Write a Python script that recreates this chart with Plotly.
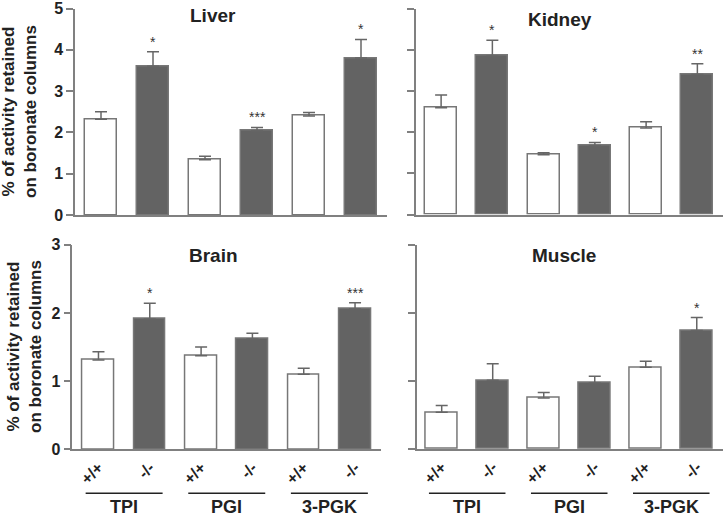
import plotly.graph_objects as go

genotypes = ["+/+", "-/-", "+/+", "-/-", "+/+", "-/-"]
groups = ["TPI", "PGI", "3-PGK"]

liver_vals = [2.32, 3.60, 1.34, 2.04, 2.40, 3.80]
liver_err = [0.18, 0.35, 0.08, 0.08, 0.08, 0.45]
liver_sig = ["", "*", "", "***", "", "*"]

kidney_vals = [2.59, 3.85, 1.45, 1.67, 2.10, 3.40]
kidney_err = [0.31, 0.38, 0.05, 0.08, 0.15, 0.26]
kidney_sig = ["", "*", "", "*", "", "**"]

brain_vals = [1.31, 1.91, 1.37, 1.62, 1.10, 2.06]
brain_err = [0.12, 0.23, 0.13, 0.08, 0.09, 0.09]
brain_sig = ["", "*", "", "", "", "***"]

muscle_vals = [0.54, 1.01, 0.75, 0.97, 1.20, 1.74]
muscle_err = [0.10, 0.24, 0.08, 0.10, 0.09, 0.19]
muscle_sig = ["", "", "", "", "", "*"]

panels = [
    ("Liver", liver_vals, liver_err, liver_sig),
    ("Kidney", kidney_vals, kidney_err, kidney_sig),
    ("Brain", brain_vals, brain_err, brain_sig),
    ("Muscle", muscle_vals, muscle_err, muscle_sig),
]

W, H = 726, 519
FONT = "Arial, Liberation Sans, sans-serif"
AXC = "#808080"
fill = ["white", "#636363"] * 3

xdom = [(75, 387), (416, 723), (72.3, 380.7), (416.7, 723.3)]
xrng = [(-0.5, 5.5), (-0.49, 5.5), (-0.51, 5.5), (-0.49, 5.52)]
ydom = [(215, 8.5), (214.5, 8.5), (449.3, 244.7), (449.0, 244.7)]
yrng = [(0, 5), (0, 5), (0, 3), (0, 3)]
title_pos = [(213, 15), (560, 19), (213, 255), (564, 255)]

fig = go.Figure()
annotations = []
shapes = []
xs = list(range(6))

for i, (name, vals, err, sig) in enumerate(panels):
    n = "" if i == 0 else str(i + 1)
    fig.add_trace(go.Bar(
        x=xs, y=vals, width=0.62,
        marker=dict(color=fill, line=dict(color="#777777", width=1.5)),
        error_y=dict(type="data", array=err, arrayminus=[0] * 6, symmetric=False,
                     color="#666666", thickness=1.5, width=6),
        xaxis="x" + n, yaxis="y" + n, showlegend=False, hoverinfo="skip",
    ))
    bottom = i >= 2
    left = i % 2 == 0
    fig.update_layout(**{
        "xaxis" + n: dict(
            domain=[xdom[i][0] / W, xdom[i][1] / W], range=list(xrng[i]),
            anchor="y" + n, showline=True, linecolor=AXC, linewidth=1.5,
            showgrid=False, zeroline=False, ticks="outside", ticklen=1,
            tickcolor="rgba(0,0,0,0)", automargin=False,
            tickvals=xs, ticktext=genotypes, tickangle=-45,
            showticklabels=bottom, ticklabeloverflow="allow",
            tickfont=dict(family=FONT, size=16, color="#222", weight="bold"),
        ),
        "yaxis" + n: dict(
            domain=[1 - ydom[i][0] / H, 1 - ydom[i][1] / H], range=list(yrng[i]),
            anchor="x" + n, showline=True, linecolor=AXC, linewidth=1.5,
            showgrid=False, zeroline=False, ticks="outside", ticklen=7,
            tickcolor=AXC, tickwidth=1.5, dtick=1, automargin=False,
            showticklabels=left, ticklabeloverflow="allow",
            tickfont=dict(family=FONT, size=16, color="#222", weight="bold"),
        ),
    })
    annotations.append(dict(
        text="<b>%s</b>" % name, x=title_pos[i][0] / W, y=1 - title_pos[i][1] / H,
        xref="paper", yref="paper", showarrow=False, xanchor="center", yanchor="middle",
        font=dict(family=FONT, size=19, color="#222"),
    ))
    for j in range(6):
        if sig[j]:
            annotations.append(dict(
                text=sig[j], x=j, y=vals[j] + err[j], xref="x" + n, yref="y" + n,
                showarrow=False, xanchor="center", yanchor="bottom", yshift=0,
                font=dict(family=FONT, size=14, color="#333333"),
            ))
    if bottom:
        for g, gname in enumerate(groups):
            shapes.append(dict(
                type="line", xref="x" + n, yref="paper",
                x0=2 * g - 0.25, x1=2 * g + 1.25, y0=1 - 493.3 / H, y1=1 - 493.3 / H,
                line=dict(color="#222", width=1.5),
            ))
            annotations.append(dict(
                text="<b>%s</b>" % gname, x=2 * g + 0.5, y=0,
                xref="x" + n, yref="paper", showarrow=False,
                xanchor="center", yanchor="bottom",
                font=dict(family=FONT, size=18, color="#222"),
            ))

ytitle = "<b>% of activity retained<br>on boronate columns</b>"
for (cx, cy) in [(20, 112), (24, 347)]:
    annotations.append(dict(
        text=ytitle, x=cx / W, y=1 - cy / H, xref="paper", yref="paper",
        showarrow=False, textangle=-90, xanchor="center", yanchor="middle",
        font=dict(family=FONT, size=17, color="#222"),
    ))

fig.update_layout(
    width=W, height=H, margin=dict(l=0, r=0, t=0, b=0, pad=0, autoexpand=False),
    paper_bgcolor="white", plot_bgcolor="white",
    annotations=annotations, shapes=shapes, bargap=0,
)
fig.write_html("out.html", config={"displayModeBar": False},
               post_script="document.body.style.margin='0';")
